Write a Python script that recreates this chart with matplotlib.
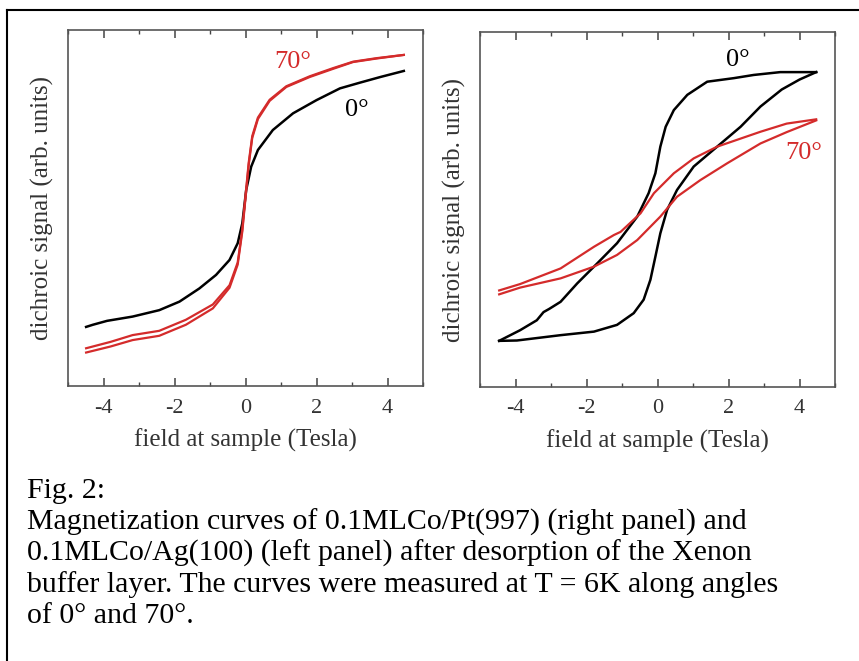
import numpy as np
import matplotlib.pyplot as plt
from matplotlib.lines import Line2D
from matplotlib.ticker import MultipleLocator, NullLocator

plt.rcParams['font.family'] = ['Liberation Serif', 'DejaVu Serif']
plt.rcParams['axes.unicode_minus'] = False

# left panel: 0.1ML Co/Ag(100)
ag_0_x = [-4.49, -4.3, -3.9, -3.18, -2.43, -1.86, -1.30, -0.83, -0.45, -0.22, -0.09,
          0.02, 0.16, 0.35, 0.77, 1.34, 2.0, 2.66, 3.22, 3.8, 4.46]
ag_0_y = [0.166, 0.172, 0.183, 0.195, 0.213, 0.237, 0.274, 0.312, 0.354, 0.401, 0.457,
          0.551, 0.616, 0.663, 0.719, 0.766, 0.803, 0.836, 0.852, 0.868, 0.885]

ag_70_x = [-4.49, -3.8, -3.18, -2.43, -1.68, -0.92, -0.45, -0.22, -0.09, 0.0, 0.09,
           0.19, 0.35, 0.68, 1.15, 1.81, 2.47, 3.03, 3.7, 4.46]
ag_70_up_y = [0.106, 0.124, 0.143, 0.155, 0.186, 0.229, 0.283, 0.347, 0.440, 0.534, 0.627,
              0.702, 0.754, 0.804, 0.842, 0.870, 0.893, 0.911, 0.921, 0.930]
ag_70_dn_y = [0.094, 0.111, 0.129, 0.141, 0.172, 0.218, 0.276, 0.341, 0.434, 0.528, 0.621,
              0.697, 0.750, 0.801, 0.840, 0.868, 0.891, 0.910, 0.920, 0.930]

# right panel: 0.1ML Co/Pt(997)
pt_0_inc_x = [-4.46, -3.96, -2.73, -1.79, -1.14, -0.67, -0.39, -0.20, -0.06, 0.08, 0.27,
              0.55, 1.02, 1.68, 2.34, 2.90, 3.5, 4.0, 4.47]
pt_0_inc_y = [0.130, 0.131, 0.146, 0.156, 0.175, 0.208, 0.246, 0.302, 0.367, 0.433, 0.499,
              0.555, 0.621, 0.677, 0.733, 0.790, 0.838, 0.866, 0.887]
pt_0_dec_x = [4.47, 3.46, 2.71, 2.15, 1.40, 0.84, 0.46, 0.23, 0.08, -0.06, -0.25, -0.57,
              -1.14, -1.70, -2.26, -2.73, -3.05, -3.21, -3.40, -3.87, -4.46]
pt_0_dec_y = [0.887, 0.887, 0.879, 0.870, 0.860, 0.823, 0.780, 0.733, 0.677, 0.602, 0.546, 0.480,
              0.405, 0.348, 0.292, 0.240, 0.220, 0.211, 0.188, 0.160, 0.130]

pt_70_dec_x = [4.47, 3.64, 2.90, 1.68, 1.02, 0.46, -0.10, -0.48, -1.04, -1.23, -1.79, -2.73,
               -3.87, -4.46]
pt_70_dec_y = [0.754, 0.742, 0.719, 0.677, 0.644, 0.602, 0.546, 0.489, 0.437, 0.428, 0.395, 0.334,
               0.290, 0.272]
pt_70_inc_x = [-4.46, -3.87, -2.73, -1.79, -1.14, -0.57, 0.08, 0.55, 1.21, 1.96, 2.90, 3.64, 4.47]
pt_70_inc_y = [0.261, 0.280, 0.306, 0.339, 0.372, 0.414, 0.480, 0.536, 0.583, 0.630, 0.686, 0.718,
               0.751]

caption = ["Fig. 2:",
           "Magnetization curves of 0.1MLCo/Pt(997) (right panel) and",
           "0.1MLCo/Ag(100) (left panel) after desorption of the Xenon",
           "buffer layer. The curves were measured at T = 6K along angles",
           "of 0\u00b0 and 70\u00b0."]

W, H = 859, 661
RED = '#d42b2b'
fig = plt.figure(figsize=(W / 100, H / 100), dpi=100)


def make_axes(x0, y0, x1, y1):
    ax = fig.add_axes([x0 / W, 1 - y1 / H, (x1 - x0) / W, (y1 - y0) / H])
    ax.set_xlim(-5, 5)
    ax.set_ylim(0, 1)
    ax.xaxis.set_major_locator(MultipleLocator(2))
    ax.xaxis.set_minor_locator(MultipleLocator(1))
    ax.yaxis.set_major_locator(NullLocator())
    ax.tick_params(axis='x', which='both', direction='in', top=True, colors='#444444',
                   labelcolor='#333333', labelsize=16, pad=9)
    ax.tick_params(axis='x', which='major', length=6, width=1.1)
    ax.tick_params(axis='x', which='minor', length=3, width=1.0)
    for s in ax.spines.values():
        s.set_color('#555555')
        s.set_linewidth(1.2)
    ax.set_xlabel('field at sample (Tesla)', fontsize=18, color='#333333', labelpad=8)
    ax.set_ylabel('dichroic signal (arb. units)', fontsize=18, color='#333333', labelpad=10)
    return ax


ax1 = make_axes(68, 30, 423, 386)
ax1.plot(ag_0_x, ag_0_y, color='black', lw=1.8)
ax1.plot(ag_70_x, ag_70_up_y, color=RED, lw=1.6)
ax1.plot(ag_70_x, ag_70_dn_y, color=RED, lw=1.6)
ax1.text(1.33, 0.91, '70\u00b0', color=RED, fontsize=19, ha='center', va='center')
ax1.text(3.14, 0.775, '0\u00b0', color='black', fontsize=19, ha='center', va='center')

ax2 = make_axes(480, 32, 835, 387)
ax2.plot(pt_0_inc_x, pt_0_inc_y, color='black', lw=1.8)
ax2.plot(pt_0_dec_x, pt_0_dec_y, color='black', lw=1.8)
ax2.plot(pt_70_dec_x, pt_70_dec_y, color=RED, lw=1.6)
ax2.plot(pt_70_inc_x, pt_70_inc_y, color=RED, lw=1.6)
ax2.text(2.25, 0.92, '0\u00b0', color='black', fontsize=19, ha='center', va='center')
ax2.text(4.11, 0.66, '70\u00b0', color=RED, fontsize=19, ha='center', va='center')

# caption
baselines = [498, 530, 561, 592, 623]
for line, b in zip(caption, baselines):
    fig.text(27 / W, 1 - b / H, line, fontsize=21.5, va='baseline', ha='left', color='black')

# frame (left and top edges)
fig.add_artist(Line2D([7 / W, 7 / W], [0, 1 - 10 / H], transform=fig.transFigure,
                      color='black', lw=1.5))
fig.add_artist(Line2D([7 / W, 1], [1 - 10 / H, 1 - 10 / H], transform=fig.transFigure,
                      color='black', lw=1.5))

fig.savefig('out.png', dpi=100)
